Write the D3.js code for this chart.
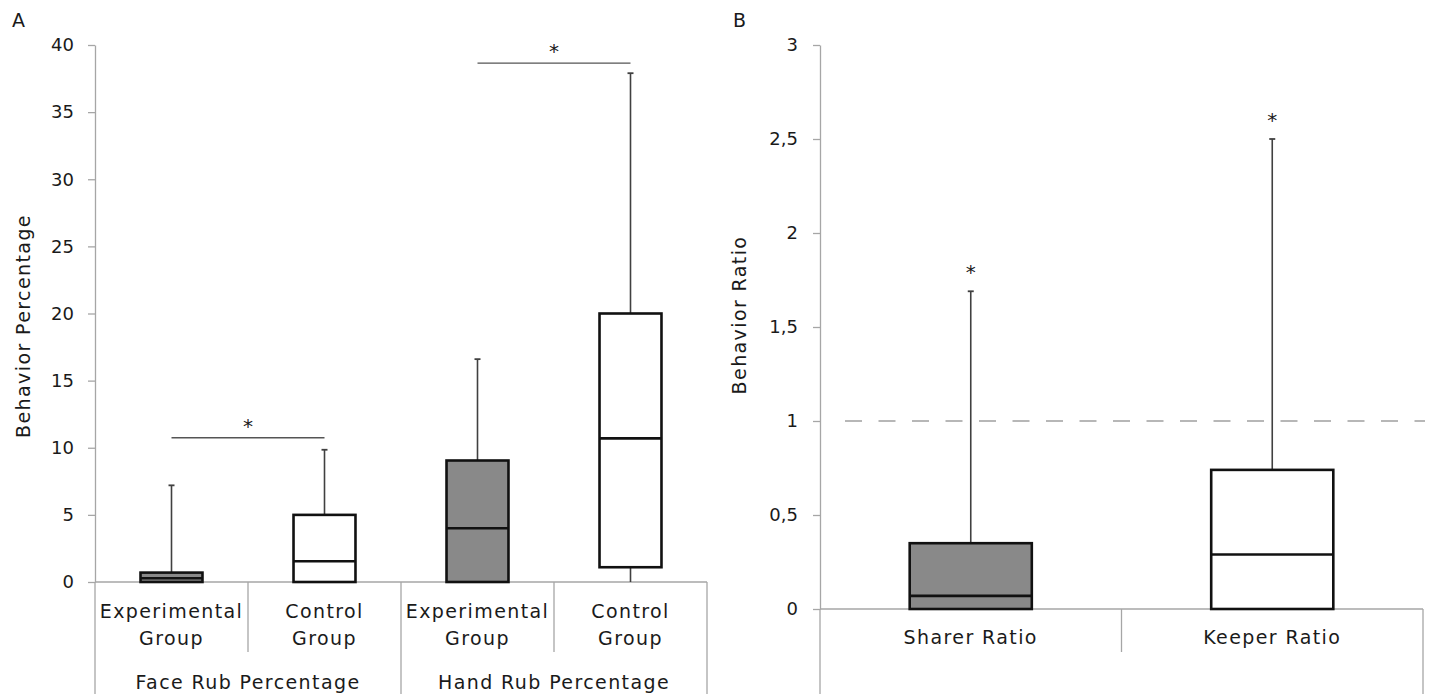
<!DOCTYPE html>
<html>
<head>
<meta charset="utf-8">
<script src="https://cdn.jsdelivr.net/npm/d3@7"></script>
<style>
  body { margin: 0; background: #fff; }
  svg { display: block; font-family: "DejaVu Sans", sans-serif; }
</style>
</head>
<body>
<svg id="chart" width="1429" height="694"></svg>
<script>
// ---------- DATA ----------
// Panel A
const groupsA = ["Face Rub Percentage", "Hand Rub Percentage"];
const subCatsA = ["Experimental Group", "Control Group", "Experimental Group", "Control Group"];
const kindA = ["Experimental", "Control", "Experimental", "Control"];
const minA = [0, 0, 0, 0];
const q1A = [0, 0, 0, 1.1];
const medianA = [0.28, 1.55, 4.0, 10.7];
const q3A = [0.7, 5.0, 9.05, 20.0];
const maxA = [7.2, 9.85, 16.6, 37.9];
const ticksA = [0, 5, 10, 15, 20, 25, 30, 35, 40];
const sigA = [{ from: 0, to: 1, y: 10.75 }, { from: 2, to: 3, y: 38.65 }];

// Panel B
const catsB = ["Sharer Ratio", "Keeper Ratio"];
const kindB = ["Experimental", "Control"];
const minB = [0, 0];
const q1B = [0, 0];
const medianB = [0.07, 0.29];
const q3B = [0.35, 0.74];
const maxB = [1.69, 2.5];
const ticksB = [0, 0.5, 1, 1.5, 2, 2.5, 3];
const refLineB = 1;
const sigB = [true, true];

// ---------- STYLE ----------
const axisColor = "#a6a6a6";
const boxStroke = "#111";
const whiskerColor = "#404040";
const fill = d3.scaleOrdinal().domain(["Experimental", "Control"]).range(["#898989", "#ffffff"]);
const textColor = "#1a1a1a";
const fs = 18;      // tick labels
const lfs = 19;     // labels
const ls = 1.4;     // letter spacing for labels

const svg = d3.select("#chart");

function drawPanel(opt) {
  const g = svg.append("g");
  const n = opt.cats.length;
  const x = d3.scaleBand().domain(d3.range(n)).range([opt.x0, opt.x1]).padding(0);
  const y = d3.scaleLinear().domain(opt.domain).range([opt.yBottom, opt.yTop]);
  const bw = x.bandwidth() * 0.405;

  // y axis
  const yAxis = d3.axisLeft(y).tickValues(opt.ticks).tickSize(7).tickSizeOuter(0).tickPadding(opt.tickPad)
    .tickFormat(opt.fmt);
  const ga = g.append("g").attr("transform", `translate(${opt.x0},0)`).call(yAxis);
  ga.select(".domain").attr("stroke", axisColor).attr("stroke-width", 1.3);
  ga.selectAll(".tick line").attr("stroke", axisColor).attr("stroke-width", 1.3);
  ga.selectAll(".tick text").attr("fill", textColor).attr("font-size", fs).attr("font-family", "DejaVu Sans, sans-serif");

  // x axis line
  g.append("line").attr("x1", opt.x0).attr("x2", opt.x1)
    .attr("y1", y(0)).attr("y2", y(0)).attr("stroke", axisColor).attr("stroke-width", 1.3);

  // y title
  g.append("text").attr("transform", `translate(${opt.titleX},${opt.titleY}) rotate(-90)`)
    .attr("text-anchor", "middle").attr("dominant-baseline", "middle")
    .attr("font-size", lfs).attr("letter-spacing", ls).attr("fill", textColor).text(opt.title);

  // panel letter
  g.append("text").attr("x", opt.letterX).attr("y", 27).attr("font-size", lfs).attr("fill", textColor).text(opt.letter);

  // reference line
  if (opt.refLine !== undefined) {
    g.append("line").attr("x1", opt.x0 + 25).attr("x2", opt.x1 + 2)
      .attr("y1", y(opt.refLine)).attr("y2", y(opt.refLine))
      .attr("stroke", "#a0a0a0").attr("stroke-width", 1.6).attr("stroke-dasharray", "17,16.5");
  }

  const idx = d3.range(n);
  const cx = i => x(i) + x.bandwidth() / 2;
  // whiskers
  g.selectAll(".wu").data(idx).join("line")
    .attr("x1", cx).attr("x2", cx).attr("y1", i => y(opt.q3[i])).attr("y2", i => y(opt.max[i]))
    .attr("stroke", whiskerColor).attr("stroke-width", 1.6);
  g.selectAll(".wl").data(idx.filter(i => opt.q1[i] > opt.min[i])).join("line")
    .attr("x1", cx).attr("x2", cx).attr("y1", i => y(opt.q1[i])).attr("y2", i => y(opt.min[i]))
    .attr("stroke", whiskerColor).attr("stroke-width", 1.6);
  g.selectAll(".cap").data(idx).join("line")
    .attr("x1", i => cx(i) - 3).attr("x2", i => cx(i) + 3)
    .attr("y1", i => y(opt.max[i])).attr("y2", i => y(opt.max[i]))
    .attr("stroke", whiskerColor).attr("stroke-width", 1.8);
  g.selectAll(".box").data(idx).join("rect")
    .attr("x", i => cx(i) - bw / 2).attr("width", bw)
    .attr("y", i => y(opt.q3[i])).attr("height", i => y(opt.q1[i]) - y(opt.q3[i]))
    .attr("fill", i => fill(opt.kind[i])).attr("stroke", boxStroke).attr("stroke-width", 2.6);
  g.selectAll(".med").data(idx).join("line")
    .attr("x1", i => cx(i) - bw / 2).attr("x2", i => cx(i) + bw / 2)
    .attr("y1", i => y(opt.median[i])).attr("y2", i => y(opt.median[i]))
    .attr("stroke", boxStroke).attr("stroke-width", 2.6);

  // significance brackets
  (opt.sig || []).forEach(s => {
    g.append("line").attr("x1", cx(s.from)).attr("x2", cx(s.to))
      .attr("y1", y(s.y)).attr("y2", y(s.y)).attr("stroke", "#555").attr("stroke-width", 1.4);
    g.append("text").attr("x", (cx(s.from) + cx(s.to)) / 2).attr("y", y(s.y) - 5)
      .attr("text-anchor", "middle").attr("font-size", 20).attr("fill", textColor).text("*");
  });
  (opt.sigTop || []).forEach((s, i) => {
    if (!s) return;
    g.append("text").attr("x", cx(i)).attr("y", y(opt.max[i]) - 12)
      .attr("text-anchor", "middle").attr("font-size", 20).attr("fill", textColor).text("*");
  });

  // category labels
  const lab = g.selectAll(".cat").data(idx).join("text")
    .attr("text-anchor", "middle").attr("font-size", lfs).attr("letter-spacing", ls).attr("fill", textColor);
  lab.each(function (i) {
    const words = opt.cats[i].split(" ");
    const t = d3.select(this);
    if (opt.twoLine) {
      t.append("tspan").attr("x", cx(i)).attr("y", opt.yBottom + 36).text(words[0]);
      t.append("tspan").attr("x", cx(i)).attr("y", opt.yBottom + 63).text(words.slice(1).join(" "));
    } else {
      t.append("tspan").attr("x", cx(i)).attr("y", opt.yBottom + 35).text(opt.cats[i]);
    }
  });

  // separators
  const bounds = d3.range(n + 1).map(i => i === n ? opt.x1 : x(i));
  bounds.forEach((bx, i) => {
    const full = (i === 0 || i === n || (opt.groups && i % (n / opt.groups.length) === 0));
    g.append("line").attr("x1", bx).attr("x2", bx)
      .attr("y1", y(0)).attr("y2", full ? 694 : 652)
      .attr("stroke", axisColor).attr("stroke-width", 1.3);
  });

  // group labels
  if (opt.groups) {
    const per = n / opt.groups.length;
    g.selectAll(".grp").data(opt.groups).join("text")
      .attr("x", (d, j) => (x(j * per) + (j === opt.groups.length - 1 ? opt.x1 : x((j + 1) * per))) / 2)
      .attr("y", opt.yBottom + 107)
      .attr("text-anchor", "middle").attr("font-size", lfs).attr("letter-spacing", ls)
      .attr("fill", textColor).text(d => d);
  }
}

drawPanel({
  x0: 95, x1: 707, yTop: 45, yBottom: 582, domain: [0, 40], ticks: ticksA, tickPad: 14,
  fmt: d3.format("d"), title: "Behavior Percentage", titleX: 24, titleY: 326, letter: "A", letterX: 12,
  cats: subCatsA, kind: kindA, min: minA, q1: q1A, median: medianA, q3: q3A, max: maxA,
  sig: sigA, twoLine: true, groups: groupsA
});

drawPanel({
  x0: 820, x1: 1423, yTop: 45, yBottom: 609, domain: [0, 3], ticks: ticksB, tickPad: 15,
  fmt: d => String(d).replace(".", ","), title: "Behavior Ratio", titleX: 740, titleY: 315, letter: "B", letterX: 733,
  cats: catsB, kind: kindB, min: minB, q1: q1B, median: medianB, q3: q3B, max: maxB,
  refLine: refLineB, sigTop: sigB, twoLine: false
});
</script>
</body>
</html>
